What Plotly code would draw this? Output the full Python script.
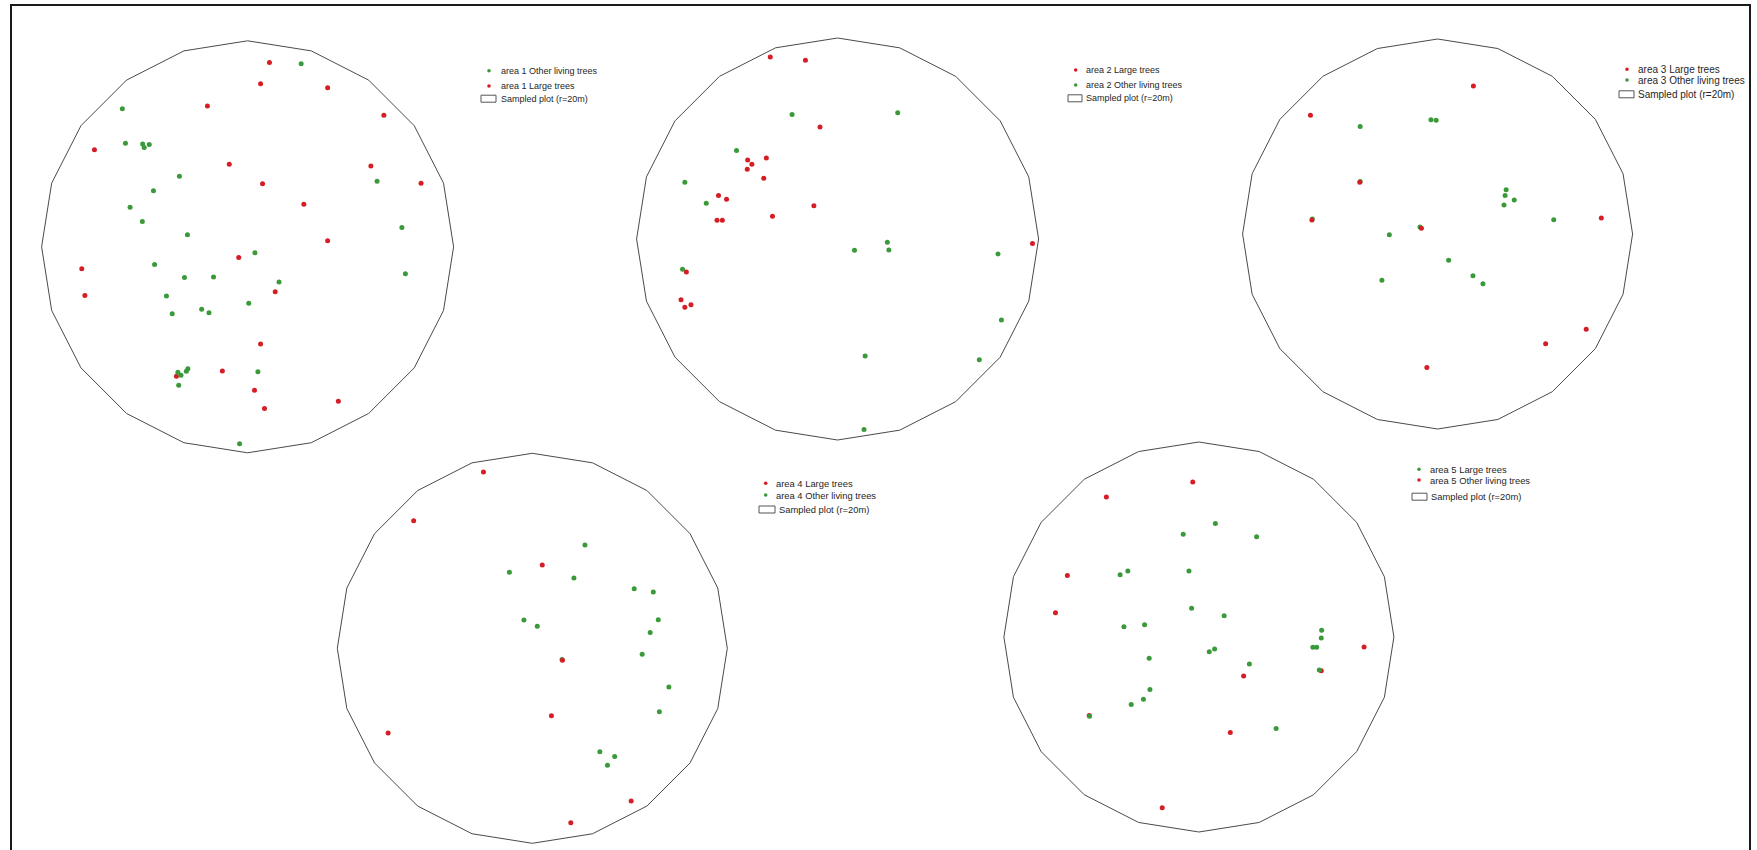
import numpy as np
import plotly.graph_objects as go

# Tree positions in metres relative to each sampled plot centre (x east, y north)

# ---- area 1 ----
a1_large_x = [2.12, 1.26, 7.77, -3.90, 13.23, -14.87, -1.78, 11.97, 1.45, 16.84, 5.46,
              7.77, -0.86, -16.10, 2.68, -15.80, 1.26, -2.45, -6.91, 0.67, 8.81, 1.64]
a1_large_y = [17.90, 15.83, 15.44, 13.67, 12.76, 9.43, 8.01, 7.85, 6.11, 6.17, 4.14,
              0.58, -1.03, -2.13, -4.36, -4.72, -9.43, -12.05, -12.57, -13.93, -14.99, -15.70]
a1_other_x = [5.20, -12.16, -11.86, -10.19, -10.04, -9.55, -6.62, 12.57, -9.14, -11.41, -10.22,
              -5.84, 14.98, 0.71, -9.03, -6.13, -3.31, 3.05, 15.32, -7.88, 0.11, -7.32,
              -4.46, -3.75, -6.77, -6.47, -5.95, -5.80, -6.69, 1.00, -0.78]
a1_other_y = [17.77, 13.41, 10.05, 9.98, 9.63, 9.92, 6.85, 6.37, 5.43, 3.84, 2.46,
              1.16, 1.87, -0.58, -1.71, -2.97, -2.94, -3.42, -2.62, -4.78, -5.49, -6.49,
              -6.07, -6.40, -12.18, -12.47, -12.08, -11.83, -13.44, -12.12, -19.13]

# ---- area 2 ----
a2_large_x = [-6.70, -3.20, -1.75, -7.09, -8.95, -8.53, -8.99, -7.35, -11.85, -11.05,
              -2.36, -12.00, -11.47, -6.48, 19.39, -15.05, -15.58, -15.20, -14.59]
a2_large_y = [18.12, 17.79, 11.15, 8.07, 7.87, 7.44, 6.94, 6.04, 4.32, 3.95,
              3.32, 1.86, 1.86, 2.26, -0.46, -3.29, -6.04, -6.80, -6.54]
a2_other_x = [-4.53, 5.98, -10.06, -15.20, -13.07, 4.95, 1.68, 5.10, 15.96, -15.43,
              16.30, 2.74, 14.10, 2.63]
a2_other_y = [12.38, 12.55, 8.80, 5.64, 3.55, -0.33, -1.13, -1.10, -1.49, -3.02,
              -8.07, -11.65, -12.02, -18.95]

# ---- area 3 ----
a3_large_x = [3.67, -13.04, -7.98, -12.89, -1.66, 16.79, 15.24, 11.08, -1.10]
a3_large_y = [15.19, 12.18, 5.32, 1.43, 0.58, 1.64, -9.76, -11.26, -13.69]
a3_other_x = [-7.94, -0.68, -0.15, 7.03, 6.92, 7.86, 6.81, 11.91, -12.85, -7.94,
              -1.81, -4.95, 1.13, -5.71, 3.63, 4.65]
a3_other_y = [11.02, 11.71, 11.67, 4.54, 3.96, 3.48, 2.97, 1.47, 1.54, 5.39,
              0.72, -0.07, -2.70, -4.74, -4.27, -5.09]

# ---- area 4 ----
a4_large_x = [-5.01, -12.17, 1.02, 3.09, 1.96, -14.79, 10.14, 3.95]
a4_large_y = [18.09, 13.09, 8.55, -1.23, -6.91, -8.68, -15.66, -17.88]
a4_other_x = [5.40, -2.35, 4.27, 10.45, 12.41, -0.86, 0.51, 12.92, 12.09, 11.27,
              14.01, 13.03, 6.93, 8.45, 7.71, 3.05]
a4_other_y = [10.60, 7.79, 7.21, 6.12, 5.78, 2.91, 2.26, 2.94, 1.61, -0.62,
              -3.97, -6.50, -10.60, -11.11, -12.00, -1.16]

# ---- area 5 ----
a5_large_x = [1.69, -1.61, 5.92, -7.29, -8.08, -1.02, -0.75, 2.59, -7.69, -5.57,
              12.59, 12.55, 11.69, 12.08, 1.06, 1.61, -5.10, 5.18, 12.35, -5.02,
              -5.69, -6.94, -11.22, 7.92]
a5_large_y = [11.64, 10.55, 10.27, 6.76, 6.38, 6.76, 2.94, 2.18, 1.06, 1.26,
              0.68, -0.10, -1.06, -1.06, -1.50, -1.23, -2.18, -2.76, -3.38, -5.39,
              -6.38, -6.93, -8.12, -9.39]
a5_other_x = [-0.63, -9.49, -13.49, -14.71, 16.94, 12.55, 4.59, 3.22, -3.76, -11.25]
a5_other_y = [15.90, 14.37, 6.31, 2.49, -1.02, -3.45, -3.99, -9.80, -17.51, -8.05]

PLOT_RADIUS_M = 20
PLOT_SIDES = 20
PLOT_LABEL = "Sampled plot (r=20m)"

# ---- styling ----
W, H = 1757, 850
RED = "#d61d25"
GREEN = "#3a9a3a"
OUTLINE = "#4a4a4a"
TEXT = "#262626"
FONT = "Liberation Sans, Arial, sans-serif"
PAD = 1.03

# Legend series listed top to bottom; the top entry is drawn above the others
areas = [
    dict(series=[("area 1 Other living trees", a1_other_x, a1_other_y, GREEN),
                 ("area 1 Large trees", a1_large_x, a1_large_y, RED)],
         centre=(247.6, 246.8), radius=206,
         leg=dict(font=9, mx=489, tx=500, tx_box=500, rows=[70.7, 86, 98.7], rect=(481, 496))),
    dict(series=[("area 2 Large trees", a2_large_x, a2_large_y, RED),
                 ("area 2 Other living trees", a2_other_x, a2_other_y, GREEN)],
         centre=(837.6, 239.0), radius=201,
         leg=dict(font=9, mx=1075.7, tx=1085.3, tx_box=1085.3, rows=[70, 85, 98.3], rect=(1068, 1082))),
    dict(series=[("area 3 Large trees", a3_large_x, a3_large_y, RED),
                 ("area 3 Other living trees", a3_other_x, a3_other_y, GREEN)],
         centre=(1437.6, 234.0), radius=195,
         leg=dict(font=10, mx=1627, tx=1637.3, tx_box=1637.3, rows=[69.3, 80, 94.3], rect=(1619, 1634))),
    dict(series=[("area 4 Large trees", a4_large_x, a4_large_y, RED),
                 ("area 4 Other living trees", a4_other_x, a4_other_y, GREEN)],
         centre=(532.3, 648.3), radius=195,
         leg=dict(font=9.4, mx=765.7, tx=775, tx_box=777.5, rows=[483.3, 495, 509.5], rect=(759, 775))),
    dict(series=[("area 5 Large trees", a5_large_x, a5_large_y, GREEN),
                 ("area 5 Other living trees", a5_other_x, a5_other_y, RED)],
         centre=(1198.9, 637.0), radius=195,
         leg=dict(font=9.4, mx=1419, tx=1428.6, tx_box=1430.3, rows=[469.3, 480, 496.7], rect=(1412, 1427))),
]


def px(x):
    return x / W


def py(y):
    return 1 - y / H


# 20-sided outline of the circular sample plot, vertex pointing north
ang = np.pi / 2 - 2 * np.pi * np.arange(PLOT_SIDES + 1) / PLOT_SIDES
poly_x = PLOT_RADIUS_M * np.cos(ang)
poly_y = PLOT_RADIUS_M * np.sin(ang)

fig = go.Figure()
shapes = []
annotations = []
layout_axes = {}

for i, area in enumerate(areas, start=1):
    xa, ya = f"x{i}", f"y{i}"
    cx, cy = area["centre"]
    half = area["radius"] * PAD
    lim = PLOT_RADIUS_M * PAD
    layout_axes[f"xaxis{i}"] = dict(domain=[px(cx - half), px(cx + half)], range=[-lim, lim],
                                    visible=False, fixedrange=True, anchor=ya)
    layout_axes[f"yaxis{i}"] = dict(domain=[py(cy + half), py(cy - half)], range=[-lim, lim],
                                    visible=False, fixedrange=True, anchor=xa)

    fig.add_trace(go.Scatter(x=poly_x, y=poly_y, mode="lines", name=PLOT_LABEL,
                             line=dict(color=OUTLINE, width=1), xaxis=xa, yaxis=ya,
                             hoverinfo="skip", showlegend=False))
    for name, sx, sy, col in reversed(area["series"]):
        fig.add_trace(go.Scatter(x=sx, y=sy, mode="markers", name=name,
                                 marker=dict(color=col, size=5, line=dict(width=0)),
                                 xaxis=xa, yaxis=ya, cliponaxis=False, showlegend=False))

    # legend block
    lg = area["leg"]
    labels = [(s[0], s[3]) for s in area["series"]] + [(PLOT_LABEL, None)]
    for (label, col), ry in zip(labels, lg["rows"]):
        tx = lg["tx"]
        if col is not None:
            d = 3.6
            shapes.append(dict(type="circle", xref="paper", yref="paper",
                               x0=px(lg["mx"] - d / 2), x1=px(lg["mx"] + d / 2),
                               y0=py(ry + d / 2), y1=py(ry - d / 2),
                               fillcolor=col, line=dict(width=0)))
        else:
            tx = lg["tx_box"]
            r0, r1 = lg["rect"]
            shapes.append(dict(type="rect", xref="paper", yref="paper",
                               x0=px(r0), x1=px(r1), y0=py(ry + 3.5), y1=py(ry - 3.5),
                               fillcolor="white", line=dict(color="#555555", width=1)))
        annotations.append(dict(text=label, x=px(tx), y=py(ry), xref="paper", yref="paper",
                                xanchor="left", yanchor="middle", showarrow=False, borderpad=0,
                                font=dict(family=FONT, size=lg["font"], color=TEXT)))

# outer frame
shapes.append(dict(type="rect", xref="paper", yref="paper", x0=px(11), x1=px(1750),
                   y0=-0.02, y1=py(5), line=dict(color="#1a1a1a", width=2)))

fig.update_layout(width=W, height=H, margin=dict(l=0, r=0, t=0, b=0),
                  paper_bgcolor="white", plot_bgcolor="rgba(0,0,0,0)",
                  showlegend=False, shapes=shapes, annotations=annotations,
                  **layout_axes)

fig.write_html("out.html", config=dict(displayModeBar=False))
